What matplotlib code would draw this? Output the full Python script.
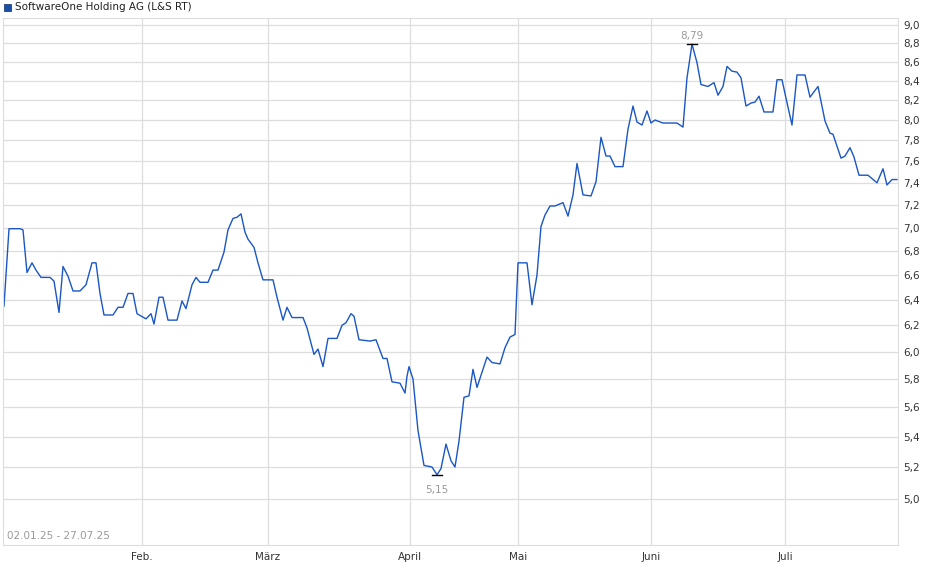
import matplotlib
matplotlib.use("Agg")
import matplotlib.pyplot as plt
from matplotlib.ticker import FixedLocator, FuncFormatter, NullLocator

# time position (chart time units) and price values
t = [4, 9, 20, 23, 27, 32, 36, 41, 50, 54, 59, 63, 68, 73, 80, 86, 92, 96, 100, 104,
     113, 118, 123, 128, 133, 137, 146, 151, 154, 159, 163, 168, 177, 182, 186, 192, 196,
     200, 208, 213, 218, 224, 228, 233, 237, 241, 245, 248, 254, 258, 263, 273, 277, 283,
     287, 292, 303, 307, 314, 318, 323, 328, 337, 342, 346, 351, 354, 359, 370, 376, 383,
     387, 392, 400, 405, 407, 409, 413, 418, 424, 432, 437, 441, 446, 451, 455, 459, 464,
     469, 473, 477, 487, 492, 500, 505, 510, 515, 518, 527, 532, 537, 541, 545, 550, 555,
     563, 568, 573, 577, 583, 591, 596, 601, 606, 610, 615, 623, 628, 633, 637, 642, 647,
     651, 655, 663, 677, 683, 687, 692, 697, 701, 708, 714, 718, 723, 727, 732, 737, 741,
     746, 751, 755, 759, 764, 773, 777, 782, 786, 792, 797, 805, 810, 818, 825, 830, 833,
     841, 845, 850, 854, 859, 868, 877, 883, 887, 892, 897]
price = [6.35, 6.99, 6.99, 6.98, 6.62, 6.70, 6.64, 6.58, 6.58, 6.55, 6.30, 6.67, 6.59, 6.47,
         6.47, 6.52, 6.70, 6.70, 6.45, 6.28, 6.28, 6.34, 6.34, 6.45, 6.45, 6.29, 6.25, 6.29,
         6.21, 6.42, 6.42, 6.24, 6.24, 6.39, 6.33, 6.52, 6.58, 6.54, 6.54, 6.64, 6.64, 6.79,
         6.98, 7.08, 7.09, 7.12, 6.96, 6.90, 6.83, 6.70, 6.56, 6.56, 6.42, 6.24, 6.34, 6.26,
         6.26, 6.18, 5.98, 6.02, 5.89, 6.10, 6.10, 6.20, 6.22, 6.29, 6.27, 6.09, 6.08, 6.09,
         5.95, 5.95, 5.78, 5.77, 5.70, 5.82, 5.89, 5.80, 5.44, 5.21, 5.20, 5.15, 5.19, 5.35,
         5.24, 5.20, 5.37, 5.67, 5.68, 5.87, 5.74, 5.96, 5.92, 5.91, 6.03, 6.11, 6.13, 6.70,
         6.70, 6.36, 6.60, 7.01, 7.11, 7.19, 7.19, 7.22, 7.10, 7.29, 7.58, 7.29, 7.28, 7.41,
         7.83, 7.65, 7.65, 7.55, 7.55, 7.91, 8.14, 7.98, 7.95, 8.09, 7.97, 8.00, 7.97, 7.97,
         7.93, 8.43, 8.79, 8.59, 8.36, 8.34, 8.38, 8.25, 8.34, 8.55, 8.50, 8.49, 8.43, 8.14,
         8.17, 8.18, 8.24, 8.08, 8.08, 8.41, 8.41, 8.22, 7.95, 8.46, 8.46, 8.23, 8.34, 7.99,
         7.87, 7.86, 7.63, 7.65, 7.73, 7.64, 7.47, 7.47, 7.40, 7.53, 7.38, 7.43, 7.43]
month_labels = ["Feb.", "März", "April", "Mai", "Juni", "Juli"]
month_pos = [142, 268, 410, 518, 651, 785]
y_ticks = [5.0, 5.2, 5.4, 5.6, 5.8, 6.0, 6.2, 6.4, 6.6, 6.8, 7.0, 7.2, 7.4, 7.6, 7.8,
           8.0, 8.2, 8.4, 8.6, 8.8, 9.0]

W, H = 940, 579
fig = plt.figure(figsize=(W / 100, H / 100), dpi=100)
ax = fig.add_axes([3 / W, 1 - 545 / H, 895 / W, 527 / H])
ax.plot(t, price, color="#1a56c4", lw=1.0)
ax.set_yscale("log")
ax.set_ylim(4.72, 9.08)
ax.set_xlim(3, 898)
ax.yaxis.set_major_locator(FixedLocator(y_ticks))
ax.yaxis.set_minor_locator(NullLocator())
ax.yaxis.set_major_formatter(FuncFormatter(lambda v, p: f"{v:.1f}".replace(".", ",")))
ax.yaxis.tick_right()
ax.set_xticks(month_pos)
ax.set_xticklabels(month_labels)
ax.tick_params(axis="both", length=0, labelsize=7.5, colors="#333333", pad=4)
ax.tick_params(axis="x", pad=5)
ax.grid(True, color="#dddddd", lw=0.9)
for s in ax.spines.values():
    s.set_color("#dddddd")

imax = price.index(max(price))
imin = price.index(min(price))
for i, off in ((imax, 6), (imin, -11)):
    ax.plot([t[i] - 5, t[i] + 5], [price[i]] * 2, color="black", lw=1)
    ax.annotate(f"{price[i]:.2f}".replace(".", ","), (t[i], price[i]), xytext=(0, off),
                textcoords="offset points", ha="center", va="center", fontsize=7.5,
                color="#999999")

ax.text(0.005, 0.008, "02.01.25 - 27.07.25", transform=ax.transAxes, fontsize=7.5,
        color="#999999", va="bottom")
fig.patches.append(plt.Rectangle((4 / W, 1 - 11 / H), 7 / W, 7 / H, transform=fig.transFigure,
                                 facecolor="#1a4fa8", edgecolor="#0b2a66", lw=0.5))
fig.text(15 / W, 1 - 7 / H, "SoftwareOne Holding AG (L&S RT)", fontsize=7.5, color="#222222",
         va="center")
fig.savefig("out.png", dpi=100, facecolor="white")
